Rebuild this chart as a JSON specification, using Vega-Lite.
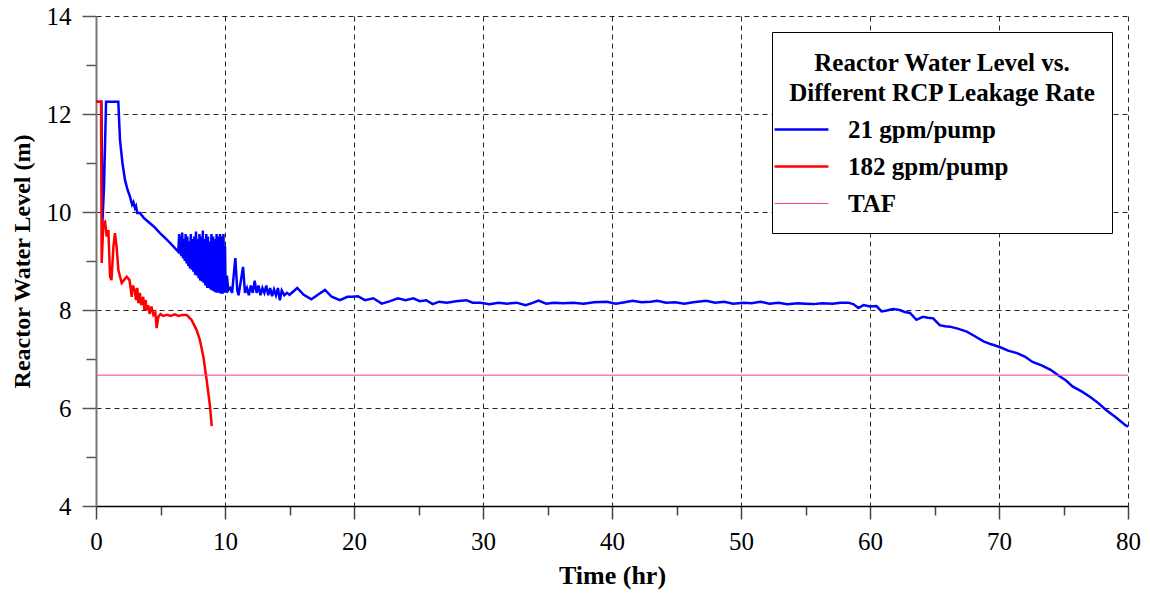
{
"$schema":"https://vega.github.io/schema/vega-lite/v6.json",
"width":1032,"height":490,
"autosize":"none",
"padding":{"left":96,"top":16,"right":22,"bottom":89},
"background":"white",
"config":{"view":{"stroke":null},"font":"Liberation Serif"},
"datasets":{
"blue":[[0,12.25],[0.42,12.25],[0.5,9.8],[0.62,10.5],[0.78,12.25],[1.73,12.25],[1.86,11.47],[2.05,11.0],[2.25,10.65],[2.45,10.45],[2.64,10.31],[2.8,10.15],[2.9,10.2],[3.02,10.08],[3.1,10.12],[3.2,9.98],[3.41,9.98],[3.7,9.88],[4.05,9.8],[4.5,9.7],[4.96,9.57],[5.35,9.47],[5.74,9.37],[6.1,9.27],[6.38,9.19],
[6.45,9.55],[6.5,9.15],[6.55,9.5],[6.62,9.1],[6.68,9.58],[6.75,9.05],[6.82,9.45],[6.88,9.0],[6.95,9.55],[7.02,8.95],[7.08,9.5],[7.15,8.9],[7.22,9.4],[7.28,8.85],[7.35,9.55],[7.42,8.82],[7.48,9.45],[7.55,8.78],[7.62,9.5],[7.68,8.72],[7.75,9.6],[7.82,8.7],[7.88,9.45],[7.95,8.65],[8.02,9.55],[8.08,8.6],[8.15,9.5],[8.22,8.58],[8.28,9.62],[8.35,8.55],[8.42,9.45],[8.48,8.5],[8.55,9.55],[8.62,8.45],[8.68,9.5],[8.75,8.45],[8.82,9.4],[8.88,8.42],[8.95,9.55],[9.02,8.4],[9.08,9.5],[9.15,8.38],[9.22,9.45],[9.28,8.36],[9.35,9.55],[9.42,8.35],[9.48,9.5],[9.55,8.35],[9.62,9.55],[9.68,8.33],[9.75,9.5],[9.82,8.33],[9.88,9.55],[9.95,8.35],[10.0,9.3],[10.05,8.35],[10.15,8.7],[10.25,8.4],[10.4,8.45],[10.55,8.35],[10.8,9.06],[10.95,8.4],[11.05,8.3],[11.4,8.88],[11.55,8.35],[11.7,8.45],[11.85,8.3],[12.0,8.5],[12.15,8.35],[12.3,8.6],[12.45,8.35],[12.6,8.5],[12.75,8.3],[12.9,8.45],[13.05,8.35],[13.2,8.5],[13.35,8.3],[13.5,8.45],[13.65,8.28],[13.8,8.42],[13.95,8.3],[14.1,8.45],[14.25,8.2],[14.4,8.4],[14.6,8.3],[14.8,8.35],[15.0,8.31],[15.6,8.45],[16.1,8.31],[16.7,8.22],[17.2,8.31],[17.75,8.41],[18.27,8.27],[18.9,8.2],[19.5,8.27],[19.9,8.27],[20.3,8.28],[20.85,8.2],[21.5,8.24],[22.15,8.13],[22.8,8.18],[23.4,8.24],[24.0,8.2],[24.6,8.24],[25.1,8.18],[25.6,8.2],[26.1,8.12],[26.6,8.17],[27.2,8.15],[27.9,8.18],[28.7,8.2],[29.2,8.15],[29.8,8.15],[30.5,8.12],[31.2,8.15],[31.9,8.13],[32.6,8.15],[33.3,8.1],[33.8,8.14],[34.3,8.19],[34.9,8.13],[35.5,8.15],[36.2,8.14],[37.0,8.15],[37.8,8.13],[38.6,8.16],[39.6,8.17],[40.3,8.13],[41.0,8.16],[41.6,8.19],[42.3,8.16],[43.0,8.17],[43.5,8.19],[44.2,8.15],[44.9,8.16],[45.6,8.13],[46.3,8.16],[47.3,8.19],[48.0,8.15],[48.7,8.17],[49.4,8.13],[50.2,8.15],[50.8,8.14],[51.5,8.17],[52.2,8.13],[52.9,8.15],[53.6,8.12],[54.4,8.14],[55.0,8.13],[55.6,8.12],[56.3,8.14],[57.1,8.13],[57.7,8.15],[58.3,8.15],[58.7,8.12],[59.1,8.04],[59.5,8.1],[60.0,8.07],[60.5,8.08],[60.9,7.97],[61.3,7.99],[61.8,8.02],[62.3,8.0],[62.7,7.96],[63.1,7.94],[63.6,7.8],[64.1,7.86],[64.5,7.84],[64.9,7.83],[65.4,7.69],[65.8,7.67],[66.2,7.66],[66.8,7.62],[67.5,7.56],[68.1,7.47],[68.8,7.36],[69.4,7.3],[70.1,7.24],[70.7,7.17],[71.4,7.12],[72.0,7.05],[72.6,6.94],[73.3,6.87],[74.0,6.78],[74.7,6.65],[75.2,6.56],[75.7,6.44],[76.4,6.34],[77.1,6.22],[77.7,6.1],[78.3,5.96],[79.0,5.82],[79.8,5.65],[80.0,5.62]],
"red":[[0,12.25],[0.39,12.25],[0.44,8.96],[0.57,9.77],[0.7,9.8],[0.83,9.5],[0.96,9.63],[1.09,8.68],[1.2,8.61],[1.35,9.29],[1.47,9.57],[1.6,9.29],[1.73,8.82],[1.99,8.55],[2.2,8.62],[2.38,8.68],[2.6,8.61],[2.77,8.27],[2.85,8.5],[3.0,8.41],[3.1,8.2],[3.2,8.45],[3.28,8.14],[3.4,8.35],[3.5,8.1],[3.66,8.27],[3.75,8.0],[3.85,8.2],[3.93,8.0],[4.05,8.1],[4.15,7.92],[4.3,8.07],[4.45,7.9],[4.6,7.95],[4.7,7.63],[4.83,7.86],[5.0,7.92],[5.2,7.88],[5.5,7.9],[5.8,7.88],[6.1,7.91],[6.4,7.88],[6.7,7.9],[7.03,7.9],[7.4,7.8],[7.8,7.59],[8.05,7.39],[8.32,7.05],[8.58,6.57],[8.84,6.03],[8.97,5.63]],
"taf":[[0,6.67],[80,6.67]]
},
"data":{"values":[]},
"layer":[
{"data":{"name":"blue"},"transform":[{"calculate":"datum[0]","as":"t"},{"calculate":"datum[1]","as":"level"},{"calculate":"'21 gpm/pump'","as":"series"}],"mark":{"type":"line","strokeWidth":2.5},
"encoding":{
"x":{"field":"t","type":"quantitative","scale":{"domain":[0,80],"nice":false,"zero":false},
"axis":{"values":[0,5,10,15,20,25,30,35,40,45,50,55,60,65,70,75,80],"labelExpr":"datum.value % 10 === 0 ? datum.label : ''","title":"Time (hr)","titleFont":"Liberation Serif","titleFontSize":26,"titleFontWeight":"bold","titleColor":"black","titlePadding":8,"labelFont":"Liberation Serif","labelFontSize":25,"labelColor":"black","labelPadding":10,"labelFlush":false,"tickSize":{"condition":{"test":"datum.value % 10 === 0","value":13},"value":9},"tickColor":"#444","tickWidth":1.5,"domainColor":"black","domainWidth":1.5,"grid":true,"gridColor":"black","gridDash":[5,4],"gridWidth":1,"gridOpacity":{"condition":{"test":"datum.value % 10 === 0","value":0.85},"value":0}}},
"y":{"field":"level","type":"quantitative","scale":{"domain":[4,14],"nice":false,"zero":false},
"axis":{"values":[4,5,6,7,8,9,10,11,12,13,14],"labelExpr":"datum.value % 2 === 0 ? datum.label : ''","title":"Reactor Water Level (m)","titleFont":"Liberation Serif","titleFontSize":24,"titleFontWeight":"bold","titleColor":"black","titlePadding":12,"labelFont":"Liberation Serif","labelFontSize":25,"labelColor":"black","labelPadding":11,"labelFlush":false,"tickSize":{"condition":{"test":"datum.value % 2 === 0","value":14},"value":10},"tickColor":"#555","tickWidth":1.5,"domainColor":"#777","domainWidth":2,"grid":true,"gridColor":"black","gridDash":[5,4],"gridWidth":1,"gridOpacity":{"condition":{"test":"datum.value % 2 === 0","value":0.85},"value":0}}},
"color":{"field":"series","type":"nominal","scale":{"domain":["21 gpm/pump","182 gpm/pump","TAF"],"range":["#0000ff","#ff0000","#ff3d9a"]},
"legend":{"orient":"none","legendX":676,"legendY":16,"title":["Reactor Water Level vs.","Different RCP Leakage Rate"],"titleLimit":600,"titleFont":"Liberation Serif","titleFontSize":25,"titleFontWeight":"bold","titleColor":"black","titleAnchor":"start","titleAlign":"center","titleLineHeight":30,"titlePadding":14,"labelFont":"Liberation Serif","labelFontSize":25,"labelFontWeight":"bold","labelColor":"black","labelLimit":400,"symbolType":"stroke","symbolSize":1936,"symbolStrokeWidth":2.5,"labelOffset":34,"rowPadding":11,"padding":16,"strokeColor":"black","fillColor":"white","cornerRadius":0,
"encode":{"title":{"update":{"dx":{"value":153},"dy":{"value":3}}},"symbols":{"update":{"size":{"value":2900},"strokeWidth":{"signal":"datum.value === 'TAF' ? 1 : 2.5"}}}}}}
}},
{"data":{"name":"red"},"transform":[{"calculate":"datum[0]","as":"t"},{"calculate":"datum[1]","as":"level"},{"calculate":"'182 gpm/pump'","as":"series"}],"mark":{"type":"line","strokeWidth":2.5},
"encoding":{"x":{"field":"t","type":"quantitative"},"y":{"field":"level","type":"quantitative"},"color":{"field":"series","type":"nominal"}}},
{"data":{"name":"taf"},"transform":[{"calculate":"datum[0]","as":"t"},{"calculate":"datum[1]","as":"level"},{"calculate":"'TAF'","as":"series"}],"mark":{"type":"line","strokeWidth":1},
"encoding":{"x":{"field":"t","type":"quantitative"},"y":{"field":"level","type":"quantitative"},"color":{"field":"series","type":"nominal"}}}
]
}
